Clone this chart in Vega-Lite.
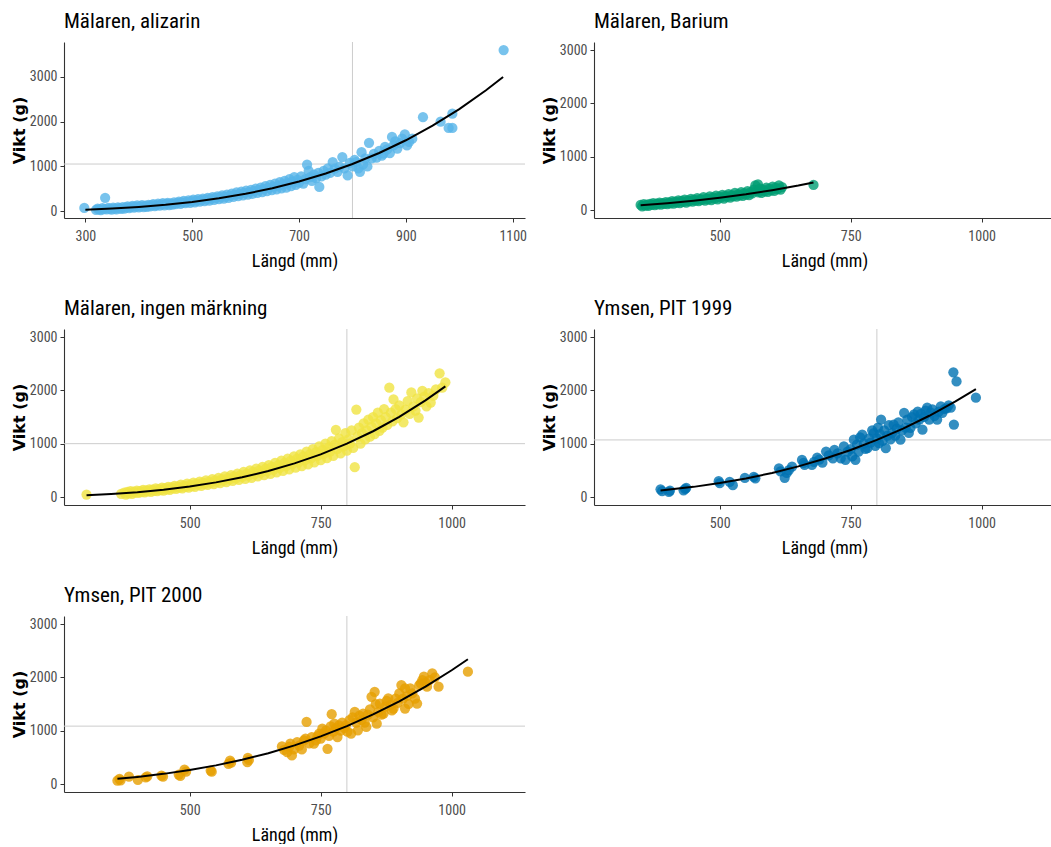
{
  "$schema": "https://vega.github.io/schema/vega-lite/v6.json",
  "padding": {"left": 11, "top": 10, "right": 0, "bottom": 0},
  "background": "white",
  "columns": 2,
  "bounds": "flush",
  "spacing": {"row": 111, "column": 69},
  "datasets": {
    "ali": [
      {"L":298,"W":74},{"L":320,"W":30},{"L":323,"W":60},{"L":326,"W":45},{"L":329,"W":25},{"L":332,"W":70},{"L":335,"W":50},{"L":337,"W":300},{"L":340,"W":40},{"L":343,"W":75},{"L":346,"W":55},{"L":349,"W":35},{"L":352,"W":80},{"L":355,"W":60},{"L":358,"W":45},{"L":361,"W":90},{"L":364,"W":70},{"L":367,"W":55},{"L":370,"W":95},{"L":373,"W":60},{"L":376,"W":85},{"L":379,"W":110},{"L":382,"W":70},{"L":385,"W":95},{"L":388,"W":120},{"L":391,"W":80},{"L":394,"W":105},{"L":397,"W":130},{"L":400,"W":85},{"L":403,"W":110},{"L":406,"W":140},{"L":409,"W":95},{"L":412,"W":125},{"L":415,"W":100},{"L":418,"W":145},{"L":421,"W":110},{"L":424,"W":135},{"L":427,"W":160},{"L":430,"W":115},{"L":433,"W":140},{"L":436,"W":170},{"L":439,"W":125},{"L":442,"W":155},{"L":445,"W":180},{"L":448,"W":130},{"L":451,"W":165},{"L":454,"W":190},{"L":457,"W":140},{"L":460,"W":175},{"L":463,"W":150},{"L":466,"W":200},{"L":469,"W":160},{"L":472,"W":185},{"L":475,"W":215},{"L":478,"W":165},{"L":481,"W":200},{"L":484,"W":230},{"L":487,"W":180},{"L":490,"W":210},{"L":493,"W":245},{"L":496,"W":190},{"L":499,"W":225},{"L":502,"W":260},{"L":505,"W":200},{"L":508,"W":240},{"L":511,"W":270},{"L":514,"W":215},{"L":517,"W":250},{"L":520,"W":285},{"L":523,"W":225},{"L":526,"W":265},{"L":529,"W":300},{"L":532,"W":240},{"L":535,"W":280},{"L":538,"W":315},{"L":541,"W":255},{"L":544,"W":300},{"L":547,"W":335},{"L":550,"W":270},{"L":553,"W":315},{"L":556,"W":355},{"L":559,"W":285},{"L":562,"W":330},{"L":565,"W":370},{"L":568,"W":300},{"L":571,"W":350},{"L":574,"W":395},{"L":577,"W":320},{"L":580,"W":370},{"L":583,"W":420},{"L":586,"W":340},{"L":589,"W":390},{"L":592,"W":440},{"L":595,"W":355},{"L":598,"W":410},{"L":601,"W":460},{"L":604,"W":370},{"L":607,"W":430},{"L":610,"W":480},{"L":613,"W":390},{"L":616,"W":455},{"L":619,"W":505},{"L":622,"W":410},{"L":625,"W":475},{"L":628,"W":530},{"L":631,"W":430},{"L":634,"W":500},{"L":637,"W":560},{"L":640,"W":450},{"L":643,"W":525},{"L":646,"W":590},{"L":649,"W":470},{"L":652,"W":550},{"L":655,"W":620},{"L":658,"W":490},{"L":661,"W":575},{"L":664,"W":650},{"L":667,"W":510},{"L":670,"W":600},{"L":673,"W":680},{"L":676,"W":530},{"L":679,"W":630},{"L":682,"W":720},{"L":685,"W":560},{"L":688,"W":660},{"L":691,"W":760},{"L":694,"W":590},{"L":697,"W":700},{"L":700,"W":640},{"L":704,"W":780},{"L":708,"W":620},{"L":712,"W":720},{"L":715,"W":1040},{"L":718,"W":900},{"L":721,"W":760},{"L":724,"W":680},{"L":728,"W":820},{"L":732,"W":740},{"L":736,"W":860},{"L":738,"W":545},{"L":742,"W":780},{"L":746,"W":900},{"L":750,"W":820},{"L":754,"W":960},{"L":758,"W":860},{"L":763,"W":1100},{"L":767,"W":950},{"L":772,"W":880},{"L":776,"W":1000},{"L":781,"W":1210},{"L":785,"W":960},{"L":791,"W":800},{"L":795,"W":1080},{"L":800,"W":1000},{"L":804,"W":1150},{"L":807,"W":1100},{"L":811,"W":960},{"L":814,"W":880},{"L":817,"W":1320},{"L":820,"W":1050},{"L":824,"W":1180},{"L":828,"W":1000},{"L":831,"W":1530},{"L":836,"W":1180},{"L":840,"W":1280},{"L":845,"W":1200},{"L":850,"W":1350},{"L":855,"W":1240},{"L":858,"W":1290},{"L":861,"W":1440},{"L":865,"W":1380},{"L":870,"W":1300},{"L":874,"W":1660},{"L":877,"W":1470},{"L":880,"W":1560},{"L":884,"W":1400},{"L":889,"W":1520},{"L":893,"W":1620},{"L":898,"W":1720},{"L":902,"W":1470},{"L":906,"W":1550},{"L":912,"W":1620},{"L":932,"W":2100},{"L":965,"W":2000},{"L":980,"W":1860},{"L":987,"W":1860},{"L":987,"W":2180},{"L":1083,"W":3600}
    ],
    "ali_fit": [
      {"L":300,"W":36},{"L":320,"W":44},{"L":350,"W":60},{"L":400,"W":96},{"L":450,"W":144},{"L":500,"W":208},{"L":550,"W":289},{"L":600,"W":390},{"L":650,"W":514},{"L":700,"W":665},{"L":750,"W":844},{"L":800,"W":1055},{"L":850,"W":1301},{"L":900,"W":1586},{"L":950,"W":1912},{"L":1000,"W":2283},{"L":1050,"W":2703},{"L":1082,"W":3000}
    ],
    "bar": [
      {"L":349,"W":95},{"L":352,"W":70},{"L":355,"W":110},{"L":358,"W":80},{"L":361,"W":100},{"L":364,"W":75},{"L":367,"W":115},{"L":370,"W":95},{"L":373,"W":130},{"L":376,"W":90},{"L":379,"W":120},{"L":382,"W":105},{"L":385,"W":140},{"L":388,"W":100},{"L":391,"W":130},{"L":394,"W":115},{"L":397,"W":150},{"L":400,"W":110},{"L":403,"W":145},{"L":406,"W":125},{"L":409,"W":165},{"L":412,"W":120},{"L":415,"W":155},{"L":418,"W":140},{"L":421,"W":180},{"L":424,"W":130},{"L":427,"W":170},{"L":430,"W":150},{"L":433,"W":195},{"L":436,"W":140},{"L":439,"W":180},{"L":442,"W":165},{"L":445,"W":210},{"L":448,"W":155},{"L":451,"W":195},{"L":454,"W":175},{"L":457,"W":225},{"L":460,"W":165},{"L":463,"W":205},{"L":466,"W":190},{"L":469,"W":240},{"L":472,"W":175},{"L":475,"W":220},{"L":478,"W":200},{"L":481,"W":255},{"L":484,"W":185},{"L":487,"W":235},{"L":490,"W":215},{"L":493,"W":270},{"L":496,"W":200},{"L":499,"W":250},{"L":502,"W":230},{"L":505,"W":285},{"L":508,"W":215},{"L":511,"W":265},{"L":514,"W":245},{"L":517,"W":300},{"L":520,"W":230},{"L":523,"W":280},{"L":526,"W":260},{"L":529,"W":320},{"L":532,"W":250},{"L":535,"W":300},{"L":538,"W":275},{"L":541,"W":335},{"L":544,"W":265},{"L":547,"W":315},{"L":550,"W":290},{"L":553,"W":355},{"L":556,"W":280},{"L":559,"W":335},{"L":562,"W":310},{"L":565,"W":380},{"L":568,"W":460},{"L":571,"W":360},{"L":573,"W":480},{"L":574,"W":330},{"L":577,"W":400},{"L":580,"W":320},{"L":583,"W":380},{"L":586,"W":350},{"L":589,"W":420},{"L":592,"W":340},{"L":595,"W":400},{"L":598,"W":370},{"L":601,"W":440},{"L":604,"W":360},{"L":607,"W":420},{"L":610,"W":390},{"L":613,"W":460},{"L":616,"W":380},{"L":619,"W":430},{"L":679,"W":470}
    ],
    "bar_fit": [
      {"L":349,"W":90},{"L":400,"W":128},{"L":450,"W":174},{"L":500,"W":230},{"L":550,"W":295},{"L":600,"W":372},{"L":650,"W":458},{"L":679,"W":515}
    ],
    "ing": [
      {"L":303,"W":45},{"L":369,"W":60},{"L":375,"W":80},{"L":378,"W":45},{"L":381,"W":95},{"L":384,"W":70},{"L":387,"W":110},{"L":390,"W":60},{"L":393,"W":100},{"L":396,"W":80},{"L":399,"W":120},{"L":402,"W":75},{"L":405,"W":110},{"L":408,"W":90},{"L":411,"W":135},{"L":414,"W":85},{"L":417,"W":125},{"L":420,"W":105},{"L":423,"W":145},{"L":426,"W":95},{"L":429,"W":140},{"L":432,"W":115},{"L":435,"W":160},{"L":438,"W":110},{"L":441,"W":150},{"L":444,"W":130},{"L":447,"W":175},{"L":450,"W":120},{"L":453,"W":165},{"L":456,"W":145},{"L":459,"W":190},{"L":462,"W":135},{"L":465,"W":180},{"L":468,"W":160},{"L":471,"W":210},{"L":474,"W":150},{"L":477,"W":195},{"L":480,"W":175},{"L":483,"W":230},{"L":486,"W":160},{"L":489,"W":215},{"L":492,"W":190},{"L":495,"W":250},{"L":498,"W":175},{"L":501,"W":230},{"L":504,"W":205},{"L":507,"W":270},{"L":510,"W":190},{"L":513,"W":250},{"L":516,"W":225},{"L":519,"W":290},{"L":522,"W":210},{"L":525,"W":270},{"L":528,"W":245},{"L":531,"W":310},{"L":534,"W":225},{"L":537,"W":290},{"L":540,"W":265},{"L":543,"W":335},{"L":546,"W":240},{"L":549,"W":310},{"L":552,"W":285},{"L":555,"W":360},{"L":558,"W":260},{"L":561,"W":335},{"L":564,"W":305},{"L":567,"W":385},{"L":570,"W":280},{"L":573,"W":360},{"L":576,"W":330},{"L":579,"W":410},{"L":582,"W":300},{"L":585,"W":385},{"L":588,"W":350},{"L":591,"W":440},{"L":594,"W":320},{"L":597,"W":410},{"L":600,"W":375},{"L":603,"W":470},{"L":606,"W":340},{"L":609,"W":440},{"L":612,"W":400},{"L":615,"W":500},{"L":618,"W":360},{"L":621,"W":470},{"L":624,"W":430},{"L":627,"W":530},{"L":630,"W":385},{"L":633,"W":500},{"L":636,"W":455},{"L":639,"W":565},{"L":642,"W":410},{"L":645,"W":530},{"L":648,"W":485},{"L":651,"W":600},{"L":654,"W":435},{"L":657,"W":565},{"L":660,"W":515},{"L":663,"W":640},{"L":666,"W":460},{"L":669,"W":600},{"L":672,"W":545},{"L":675,"W":680},{"L":678,"W":490},{"L":681,"W":640},{"L":684,"W":580},{"L":687,"W":720},{"L":690,"W":520},{"L":693,"W":680},{"L":696,"W":615},{"L":699,"W":760},{"L":702,"W":550},{"L":705,"W":720},{"L":708,"W":650},{"L":711,"W":800},{"L":714,"W":580},{"L":717,"W":760},{"L":720,"W":690},{"L":723,"W":850},{"L":726,"W":610},{"L":729,"W":800},{"L":732,"W":730},{"L":735,"W":900},{"L":738,"W":650},{"L":741,"W":840},{"L":744,"W":770},{"L":747,"W":950},{"L":750,"W":690},{"L":753,"W":880},{"L":756,"W":810},{"L":759,"W":1000},{"L":762,"W":730},{"L":765,"W":930},{"L":768,"W":850},{"L":771,"W":1050},{"L":774,"W":770},{"L":777,"W":980},{"L":779,"W":1260},{"L":782,"W":900},{"L":785,"W":1100},{"L":788,"W":820},{"L":791,"W":1030},{"L":794,"W":950},{"L":797,"W":1200},{"L":800,"W":870},{"L":803,"W":1080},{"L":806,"W":1000},{"L":809,"W":1250},{"L":812,"W":920},{"L":815,"W":560},{"L":818,"W":1640},{"L":820,"W":1130},{"L":823,"W":1300},{"L":826,"W":1000},{"L":829,"W":1200},{"L":832,"W":1380},{"L":835,"W":1080},{"L":838,"W":1250},{"L":841,"W":1450},{"L":844,"W":1130},{"L":847,"W":1320},{"L":850,"W":1500},{"L":853,"W":1180},{"L":856,"W":1380},{"L":859,"W":1580},{"L":862,"W":1240},{"L":865,"W":1440},{"L":868,"W":1300},{"L":871,"W":1650},{"L":874,"W":1500},{"L":877,"W":1350},{"L":881,"W":2050},{"L":884,"W":1580},{"L":887,"W":1420},{"L":889,"W":1830},{"L":893,"W":1650},{"L":896,"W":1480},{"L":900,"W":1720},{"L":904,"W":1550},{"L":908,"W":1400},{"L":912,"W":1640},{"L":916,"W":1800},{"L":920,"W":1560},{"L":923,"W":1960},{"L":927,"W":1700},{"L":931,"W":1620},{"L":934,"W":1850},{"L":937,"W":1490},{"L":941,"W":1780},{"L":944,"W":1990},{"L":948,"W":1880},{"L":952,"W":1700},{"L":956,"W":1950},{"L":960,"W":1770},{"L":965,"W":1900},{"L":970,"W":2020},{"L":977,"W":2320},{"L":982,"W":2050},{"L":988,"W":2150}
    ],
    "ing_fit": [
      {"L":303,"W":35},{"L":350,"W":57},{"L":400,"W":91},{"L":450,"W":137},{"L":500,"W":197},{"L":550,"W":274},{"L":600,"W":370},{"L":650,"W":487},{"L":700,"W":630},{"L":750,"W":800},{"L":800,"W":1000},{"L":850,"W":1233},{"L":900,"W":1503},{"L":950,"W":1812},{"L":988,"W":2074}
    ],
    "p99": [
      {"L":387,"W":145},{"L":390,"W":110},{"L":403,"W":95},{"L":405,"W":120},{"L":431,"W":126},{"L":434,"W":150},{"L":436,"W":170},{"L":498,"W":297},{"L":500,"W":260},{"L":519,"W":284},{"L":525,"W":221},{"L":548,"W":360},{"L":565,"W":379},{"L":568,"W":350},{"L":613,"W":537},{"L":616,"W":480},{"L":624,"W":360},{"L":628,"W":450},{"L":632,"W":505},{"L":638,"W":568},{"L":657,"W":695},{"L":660,"W":640},{"L":662,"W":600},{"L":676,"W":600},{"L":680,"W":660},{"L":686,"W":739},{"L":690,"W":700},{"L":696,"W":644},{"L":703,"W":853},{"L":708,"W":780},{"L":716,"W":726},{"L":719,"W":884},{"L":725,"W":820},{"L":731,"W":726},{"L":737,"W":947},{"L":740,"W":695},{"L":744,"W":850},{"L":750,"W":900},{"L":753,"W":760},{"L":756,"W":1074},{"L":759,"W":695},{"L":762,"W":980},{"L":765,"W":850},{"L":768,"W":1120},{"L":772,"W":1168},{"L":775,"W":1000},{"L":778,"W":900},{"L":782,"W":916},{"L":785,"W":1100},{"L":788,"W":1020},{"L":791,"W":1250},{"L":794,"W":1200},{"L":797,"W":960},{"L":800,"W":1100},{"L":802,"W":1300},{"L":804,"W":1011},{"L":806,"W":1180},{"L":808,"W":1453},{"L":811,"W":1050},{"L":814,"W":1250},{"L":817,"W":916},{"L":820,"W":1150},{"L":823,"W":1350},{"L":826,"W":1080},{"L":829,"W":1200},{"L":832,"W":1358},{"L":835,"W":1150},{"L":838,"W":1280},{"L":841,"W":1400},{"L":845,"W":1074},{"L":848,"W":1250},{"L":852,"W":1579},{"L":855,"W":1300},{"L":858,"W":1450},{"L":861,"W":1200},{"L":864,"W":1295},{"L":867,"W":1500},{"L":871,"W":1547},{"L":874,"W":1380},{"L":878,"W":1600},{"L":881,"W":1450},{"L":884,"W":1560},{"L":887,"W":1263},{"L":890,"W":1500},{"L":893,"W":1620},{"L":896,"W":1674},{"L":900,"W":1450},{"L":903,"W":1580},{"L":906,"W":1642},{"L":910,"W":1520},{"L":915,"W":1453},{"L":918,"W":1600},{"L":922,"W":1700},{"L":925,"W":1579},{"L":929,"W":1650},{"L":933,"W":1661},{"L":937,"W":1720},{"L":941,"W":1674},{"L":946,"W":2337},{"L":947,"W":1358},{"L":952,"W":2166},{"L":989,"W":1863}
    ],
    "p99_fit": [
      {"L":387,"W":121},{"L":450,"W":190},{"L":500,"W":261},{"L":550,"W":348},{"L":600,"W":451},{"L":650,"W":574},{"L":700,"W":717},{"L":750,"W":882},{"L":800,"W":1070},{"L":850,"W":1283},{"L":900,"W":1523},{"L":950,"W":1792},{"L":989,"W":2022}
    ],
    "p00": [
      {"L":362,"W":63},{"L":366,"W":94},{"L":368,"W":70},{"L":384,"W":138},{"L":401,"W":75},{"L":416,"W":126},{"L":419,"W":145},{"L":446,"W":157},{"L":449,"W":140},{"L":479,"W":176},{"L":482,"W":150},{"L":490,"W":270},{"L":493,"W":230},{"L":540,"W":252},{"L":542,"W":230},{"L":574,"W":377},{"L":577,"W":440},{"L":579,"W":400},{"L":610,"W":409},{"L":611,"W":490},{"L":613,"W":450},{"L":676,"W":704},{"L":680,"W":640},{"L":686,"W":597},{"L":690,"W":700},{"L":692,"W":755},{"L":695,"W":535},{"L":699,"W":650},{"L":705,"W":786},{"L":709,"W":720},{"L":714,"W":648},{"L":718,"W":820},{"L":721,"W":849},{"L":723,"W":1163},{"L":728,"W":760},{"L":733,"W":880},{"L":737,"W":755},{"L":741,"W":820},{"L":744,"W":900},{"L":747,"W":943},{"L":750,"W":850},{"L":753,"W":1038},{"L":757,"W":950},{"L":760,"W":1000},{"L":763,"W":660},{"L":766,"W":900},{"L":769,"W":1080},{"L":771,"W":1308},{"L":774,"W":980},{"L":776,"W":1132},{"L":779,"W":1050},{"L":782,"W":880},{"L":785,"W":1100},{"L":788,"W":1000},{"L":791,"W":1150},{"L":795,"W":1050},{"L":798,"W":1101},{"L":801,"W":980},{"L":805,"W":1200},{"L":808,"W":943},{"L":811,"W":1250},{"L":815,"W":1352},{"L":818,"W":1150},{"L":821,"W":1006},{"L":824,"W":1280},{"L":828,"W":1200},{"L":831,"W":1321},{"L":834,"W":1150},{"L":837,"W":1069},{"L":840,"W":1300},{"L":844,"W":1400},{"L":847,"W":1635},{"L":850,"W":1250},{"L":853,"W":1729},{"L":855,"W":1500},{"L":857,"W":1132},{"L":860,"W":1350},{"L":863,"W":1509},{"L":866,"W":1300},{"L":870,"W":1321},{"L":873,"W":1450},{"L":876,"W":1560},{"L":879,"W":1604},{"L":883,"W":1480},{"L":886,"W":1380},{"L":889,"W":1415},{"L":893,"W":1600},{"L":897,"W":1520},{"L":900,"W":1700},{"L":904,"W":1855},{"L":907,"W":1600},{"L":911,"W":1792},{"L":911,"W":1415},{"L":915,"W":1650},{"L":918,"W":1500},{"L":921,"W":1792},{"L":925,"W":1700},{"L":930,"W":1600},{"L":934,"W":1509},{"L":938,"W":1850},{"L":941,"W":1887},{"L":944,"W":1950},{"L":947,"W":2012},{"L":950,"W":1900},{"L":953,"W":1824},{"L":958,"W":1950},{"L":963,"W":2075},{"L":968,"W":2000},{"L":975,"W":1824},{"L":1031,"W":2107}
    ],
    "p00_fit": [
      {"L":362,"W":98},{"L":400,"W":133},{"L":450,"W":190},{"L":500,"W":261},{"L":550,"W":349},{"L":600,"W":454},{"L":650,"W":578},{"L":700,"W":724},{"L":750,"W":892},{"L":800,"W":1085},{"L":850,"W":1304},{"L":900,"W":1550},{"L":950,"W":1826},{"L":1000,"W":2133},{"L":1031,"W":2339}
    ]
  },
  "concat": [
    {
      "title": "Mälaren, alizarin",
      "width": 461, "height": 176,
      "layer": [
        {"data": {"values": [{"L": 800}]}, "mark": {"type": "rule", "color": "#cccccc", "strokeWidth": 1},
         "encoding": {"x": {"field": "L", "type": "quantitative", "title": "Längd (mm)", "scale": {"domain": [260, 1123], "nice": false, "zero": false}, "axis": {"values": [300, 500, 700, 900, 1100], "format": "d"}}}},
        {"data": {"values": [{"W": 1055}]}, "mark": {"type": "rule", "color": "#cccccc", "strokeWidth": 1},
         "encoding": {"y": {"field": "W", "type": "quantitative", "title": "Vikt (g)", "scale": {"domain": [-150, 3780], "nice": false, "zero": false}, "axis": {"values": [0, 1000, 2000, 3000], "format": "d"}}}},
        {"data": {"name": "ali"}, "mark": {"type": "circle", "size": 105, "opacity": 0.8, "color": "#56B4E9"},
         "encoding": {
           "x": {"field": "L", "type": "quantitative", "title": "Längd (mm)", "scale": {"domain": [260, 1123], "nice": false, "zero": false}, "axis": {"values": [300, 500, 700, 900, 1100], "format": "d"}},
           "y": {"field": "W", "type": "quantitative", "title": "Vikt (g)", "scale": {"domain": [-150, 3780], "nice": false, "zero": false}, "axis": {"values": [0, 1000, 2000, 3000], "format": "d"}}}},
        {"data": {"name": "ali_fit"}, "mark": {"type": "line", "color": "black", "strokeWidth": 2},
         "encoding": {
           "x": {"field": "L", "type": "quantitative", "title": "Längd (mm)", "scale": {"domain": [260, 1123], "nice": false, "zero": false}},
           "y": {"field": "W", "type": "quantitative", "title": "Vikt (g)", "scale": {"domain": [-150, 3780], "nice": false, "zero": false}}}}
      ]
    },
    {
      "title": "Mälaren, Barium",
      "width": 461, "height": 176,
      "layer": [
        {"data": {"name": "bar"}, "mark": {"type": "circle", "size": 105, "opacity": 0.8, "color": "#009E73"},
         "encoding": {
           "x": {"field": "L", "type": "quantitative", "title": "Längd (mm)", "scale": {"domain": [260, 1140], "nice": false, "zero": false}, "axis": {"values": [500, 750, 1000], "format": "d"}},
           "y": {"field": "W", "type": "quantitative", "title": "Vikt (g)", "scale": {"domain": [-150, 3150], "nice": false, "zero": false}, "axis": {"values": [0, 1000, 2000, 3000], "format": "d"}}}},
        {"data": {"name": "bar_fit"}, "mark": {"type": "line", "color": "black", "strokeWidth": 2},
         "encoding": {
           "x": {"field": "L", "type": "quantitative", "title": "Längd (mm)", "scale": {"domain": [260, 1140], "nice": false, "zero": false}},
           "y": {"field": "W", "type": "quantitative", "title": "Vikt (g)", "scale": {"domain": [-150, 3150], "nice": false, "zero": false}}}}
      ]
    },
    {
      "title": "Mälaren, ingen märkning",
      "width": 461, "height": 176,
      "layer": [
        {"data": {"values": [{"L": 800}]}, "mark": {"type": "rule", "color": "#cccccc", "strokeWidth": 1},
         "encoding": {"x": {"field": "L", "type": "quantitative", "title": "Längd (mm)", "scale": {"domain": [260, 1140], "nice": false, "zero": false}, "axis": {"values": [500, 750, 1000], "format": "d"}}}},
        {"data": {"values": [{"W": 1000}]}, "mark": {"type": "rule", "color": "#cccccc", "strokeWidth": 1},
         "encoding": {"y": {"field": "W", "type": "quantitative", "title": "Vikt (g)", "scale": {"domain": [-150, 3150], "nice": false, "zero": false}, "axis": {"values": [0, 1000, 2000, 3000], "format": "d"}}}},
        {"data": {"name": "ing"}, "mark": {"type": "circle", "size": 105, "opacity": 0.8, "color": "#F0E442"},
         "encoding": {
           "x": {"field": "L", "type": "quantitative", "title": "Längd (mm)", "scale": {"domain": [260, 1140], "nice": false, "zero": false}, "axis": {"values": [500, 750, 1000], "format": "d"}},
           "y": {"field": "W", "type": "quantitative", "title": "Vikt (g)", "scale": {"domain": [-150, 3150], "nice": false, "zero": false}, "axis": {"values": [0, 1000, 2000, 3000], "format": "d"}}}},
        {"data": {"name": "ing_fit"}, "mark": {"type": "line", "color": "black", "strokeWidth": 2},
         "encoding": {
           "x": {"field": "L", "type": "quantitative", "title": "Längd (mm)", "scale": {"domain": [260, 1140], "nice": false, "zero": false}},
           "y": {"field": "W", "type": "quantitative", "title": "Vikt (g)", "scale": {"domain": [-150, 3150], "nice": false, "zero": false}}}}
      ]
    },
    {
      "title": "Ymsen, PIT 1999",
      "width": 461, "height": 176,
      "layer": [
        {"data": {"values": [{"L": 800}]}, "mark": {"type": "rule", "color": "#cccccc", "strokeWidth": 1},
         "encoding": {"x": {"field": "L", "type": "quantitative", "title": "Längd (mm)", "scale": {"domain": [260, 1140], "nice": false, "zero": false}, "axis": {"values": [500, 750, 1000], "format": "d"}}}},
        {"data": {"values": [{"W": 1070}]}, "mark": {"type": "rule", "color": "#cccccc", "strokeWidth": 1},
         "encoding": {"y": {"field": "W", "type": "quantitative", "title": "Vikt (g)", "scale": {"domain": [-150, 3150], "nice": false, "zero": false}, "axis": {"values": [0, 1000, 2000, 3000], "format": "d"}}}},
        {"data": {"name": "p99"}, "mark": {"type": "circle", "size": 105, "opacity": 0.8, "color": "#0072B2"},
         "encoding": {
           "x": {"field": "L", "type": "quantitative", "title": "Längd (mm)", "scale": {"domain": [260, 1140], "nice": false, "zero": false}, "axis": {"values": [500, 750, 1000], "format": "d"}},
           "y": {"field": "W", "type": "quantitative", "title": "Vikt (g)", "scale": {"domain": [-150, 3150], "nice": false, "zero": false}, "axis": {"values": [0, 1000, 2000, 3000], "format": "d"}}}},
        {"data": {"name": "p99_fit"}, "mark": {"type": "line", "color": "black", "strokeWidth": 2},
         "encoding": {
           "x": {"field": "L", "type": "quantitative", "title": "Längd (mm)", "scale": {"domain": [260, 1140], "nice": false, "zero": false}},
           "y": {"field": "W", "type": "quantitative", "title": "Vikt (g)", "scale": {"domain": [-150, 3150], "nice": false, "zero": false}}}}
      ]
    },
    {
      "title": "Ymsen, PIT 2000",
      "width": 461, "height": 176,
      "layer": [
        {"data": {"values": [{"L": 800}]}, "mark": {"type": "rule", "color": "#cccccc", "strokeWidth": 1},
         "encoding": {"x": {"field": "L", "type": "quantitative", "title": "Längd (mm)", "scale": {"domain": [260, 1140], "nice": false, "zero": false}, "axis": {"values": [500, 750, 1000], "format": "d"}}}},
        {"data": {"values": [{"W": 1085}]}, "mark": {"type": "rule", "color": "#cccccc", "strokeWidth": 1},
         "encoding": {"y": {"field": "W", "type": "quantitative", "title": "Vikt (g)", "scale": {"domain": [-150, 3150], "nice": false, "zero": false}, "axis": {"values": [0, 1000, 2000, 3000], "format": "d"}}}},
        {"data": {"name": "p00"}, "mark": {"type": "circle", "size": 105, "opacity": 0.8, "color": "#E69F00"},
         "encoding": {
           "x": {"field": "L", "type": "quantitative", "title": "Längd (mm)", "scale": {"domain": [260, 1140], "nice": false, "zero": false}, "axis": {"values": [500, 750, 1000], "format": "d"}},
           "y": {"field": "W", "type": "quantitative", "title": "Vikt (g)", "scale": {"domain": [-150, 3150], "nice": false, "zero": false}, "axis": {"values": [0, 1000, 2000, 3000], "format": "d"}}}},
        {"data": {"name": "p00_fit"}, "mark": {"type": "line", "color": "black", "strokeWidth": 2},
         "encoding": {
           "x": {"field": "L", "type": "quantitative", "title": "Längd (mm)", "scale": {"domain": [260, 1140], "nice": false, "zero": false}},
           "y": {"field": "W", "type": "quantitative", "title": "Vikt (g)", "scale": {"domain": [-150, 3150], "nice": false, "zero": false}}}}
      ]
    }
  ],
  "config": {
    "view": {"stroke": null},
    "font": "Roboto Condensed, Liberation Sans Narrow, Liberation Sans, sans-serif",
    "axis": {
      "grid": false,
      "domainColor": "#333333",
      "domainWidth": 1.1,
      "tickColor": "#333333",
      "tickSize": 4,
      "tickWidth": 1,
      "labelColor": "#4d4d4d",
      "labelFont": "Roboto Condensed, Liberation Sans Narrow, Liberation Sans, sans-serif",
      "labelFontSize": 14,
      "titleColor": "#000000"
    },
    "axisX": {
      "labelPadding": 7,
      "titlePadding": 9,
      "titleFont": "Roboto Condensed, Liberation Sans Narrow, Liberation Sans, sans-serif",
      "titleFontSize": 18,
      "titleFontWeight": "normal"
    },
    "axisY": {
      "labelPadding": 3,
      "titlePadding": 2,
      "titleFont": "DejaVu Sans",
      "titleFontSize": 16,
      "titleFontWeight": "bold"
    },
    "title": {
      "font": "Roboto Condensed, Liberation Sans Narrow, Liberation Sans, sans-serif",
      "fontSize": 21,
      "fontWeight": "normal",
      "anchor": "start",
      "frame": "group",
      "color": "#000000",
      "offset": 10
    }
  }
}
